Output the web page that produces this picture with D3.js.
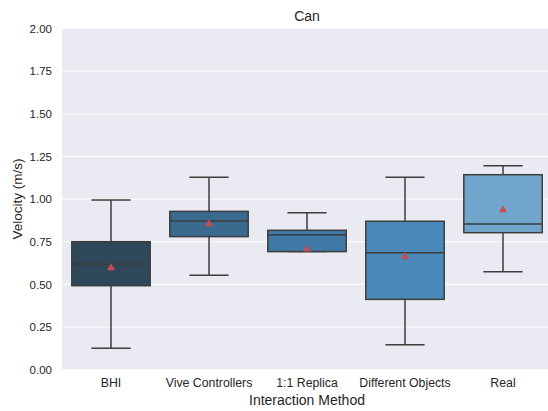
<!DOCTYPE html>
<html>
<head>
<meta charset="utf-8">
<script src="https://cdn.jsdelivr.net/npm/d3@7"></script>
<style>
  html, body { margin: 0; padding: 0; background: #fff; }
  svg { display: block; font-family: "Liberation Sans", Arial, sans-serif; }
</style>
</head>
<body>
<svg id="chart" width="548" height="411"></svg>
<script>
// Interaction methods along the x axis
const categories = ["BHI", "Vive Controllers", "1:1 Replica", "Different Objects", "Real"];
// Box statistics per method (m/s)
const whiskerLow = [0.125, 0.553, 0.692, 0.146, 0.574];
const q1Values   = [0.492, 0.780, 0.692, 0.412, 0.803];
const medians    = [0.619, 0.872, 0.791, 0.686, 0.854];
const q3Values   = [0.750, 0.928, 0.817, 0.870, 1.143];
const whiskerHigh= [0.995, 1.128, 0.920, 1.128, 1.196];
const means      = [0.597, 0.854, 0.706, 0.662, 0.936];
const yTicks = [0, 0.25, 0.5, 0.75, 1.0, 1.25, 1.5, 1.75, 2.0];
const boxColors = ["#2f4859", "#3a6a8e", "#4079a6", "#4a89b9", "#72a5cb"];

const svg = d3.select("#chart");
const margin = { left: 62, top: 28.6, right: 552, bottom: 369.6 };

const x = d3.scaleBand().domain(categories).range([margin.left, margin.right]).paddingInner(0).paddingOuter(0);
const y = d3.scaleLinear().domain([0, 2]).range([margin.bottom, margin.top]);

// Plot background
svg.append("rect")
  .attr("x", margin.left).attr("y", margin.top)
  .attr("width", margin.right - margin.left)
  .attr("height", margin.bottom - margin.top)
  .attr("fill", "#eaeaf2");

// Horizontal gridlines
svg.append("g").selectAll("line").data(yTicks).join("line")
  .attr("x1", margin.left).attr("x2", margin.right)
  .attr("y1", d => y(d)).attr("y2", d => y(d))
  .attr("stroke", "#fff").attr("stroke-width", 1);

// Y axis tick labels
const yAxis = d3.axisLeft(y).tickValues(yTicks).tickFormat(d3.format(".2f")).tickSize(0).tickPadding(10);
const gy = svg.append("g").attr("transform", `translate(${margin.left},0)`).call(yAxis);
gy.select(".domain").remove();
gy.selectAll("text").attr("fill", "#262626").style("font-size", "11.5px")
  .style("font-family", "'Liberation Sans', Arial, sans-serif");

// X axis tick labels
const xAxis = d3.axisBottom(x).tickSize(0).tickPadding(9);
const gx = svg.append("g").attr("transform", `translate(0,${margin.bottom})`).call(xAxis);
gx.select(".domain").remove();
gx.selectAll("text").attr("fill", "#262626").style("font-size", "12.3px")
  .style("font-family", "'Liberation Sans', Arial, sans-serif");

// Boxes
const lineColor = "#3d3d3d";
const bw = x.bandwidth() * 0.8;
const rows = categories.map((c, i) => ({
  c, lo: whiskerLow[i], q1: q1Values[i], med: medians[i], q3: q3Values[i],
  hi: whiskerHigh[i], mean: means[i], color: boxColors[i]
}));

const g = svg.append("g");
rows.forEach(r => {
  const cx = x(r.c) + x.bandwidth() / 2;
  // whiskers
  g.append("line").attr("x1", cx).attr("x2", cx).attr("y1", y(r.q3)).attr("y2", y(r.hi))
    .attr("stroke", lineColor).attr("stroke-width", 1.5);
  g.append("line").attr("x1", cx).attr("x2", cx).attr("y1", y(r.q1)).attr("y2", y(r.lo))
    .attr("stroke", lineColor).attr("stroke-width", 1.5);
  // caps
  [r.lo, r.hi].forEach(v => {
    g.append("line").attr("x1", cx - bw / 4).attr("x2", cx + bw / 4)
      .attr("y1", y(v)).attr("y2", y(v))
      .attr("stroke", lineColor).attr("stroke-width", 1.5);
  });
  // box
  g.append("rect").attr("x", cx - bw / 2).attr("width", bw)
    .attr("y", y(r.q3)).attr("height", y(r.q1) - y(r.q3))
    .attr("fill", r.color).attr("stroke", lineColor).attr("stroke-width", 1.5);
  // median
  g.append("line").attr("x1", cx - bw / 2).attr("x2", cx + bw / 2)
    .attr("y1", y(r.med)).attr("y2", y(r.med))
    .attr("stroke", lineColor).attr("stroke-width", 1.5);
  // mean marker
  g.append("path")
    .attr("d", d3.symbol(d3.symbolTriangle, 28)())
    .attr("transform", `translate(${cx},${y(r.mean)})`)
    .attr("fill", "#c44e52");
});

// Title and axis labels
svg.append("text").attr("x", (margin.left + margin.right) / 2).attr("y", 21)
  .attr("text-anchor", "middle").attr("fill", "#262626").style("font-size", "14px").text("Can");
svg.append("text").attr("x", (margin.left + margin.right) / 2).attr("y", 405)
  .attr("text-anchor", "middle").attr("fill", "#262626").style("font-size", "14px").text("Interaction Method");
svg.append("text")
  .attr("transform", `translate(22,${(margin.top + margin.bottom) / 2}) rotate(-90)`)
  .attr("text-anchor", "middle").attr("fill", "#262626").style("font-size", "13.5px").text("Velocity (m/s)");
</script>
</body>
</html>
